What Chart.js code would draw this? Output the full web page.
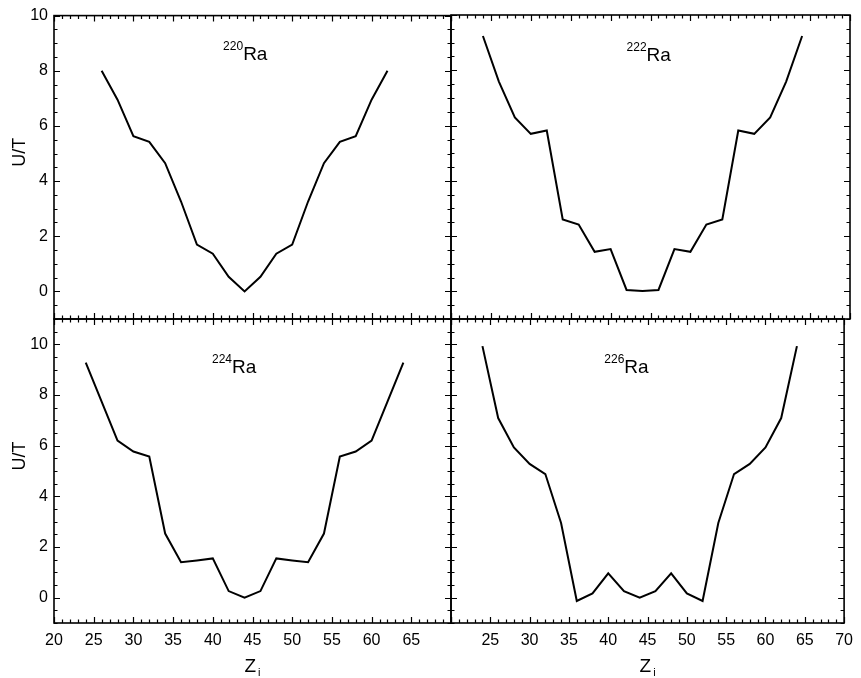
<!DOCTYPE html>
<html>
<head>
<meta charset="utf-8">
<script src="https://cdn.jsdelivr.net/npm/chart.js@4.4.1/dist/chart.umd.min.js"></script>
<style>
  body { margin: 0; background: #fff; }
  #wrap { position: relative; width: 861px; height: 678px; background: #fff; }
  #wrap canvas { position: absolute; left: 0; top: 0; }
</style>
</head>
<body>
<div id="wrap">
  <canvas id="c220" width="861" height="678"></canvas>
  <canvas id="c222" width="861" height="678"></canvas>
  <canvas id="c224" width="861" height="678"></canvas>
  <canvas id="c226" width="861" height="678"></canvas>
</div>
<script>
// Z_i values and U/T for each isotope
var z220 = [26, 28, 30, 32, 34, 36, 38, 40, 42, 44, 46, 48, 50, 52, 54, 56, 58, 60, 62];
var ut220 = [8.0, 6.95, 5.63, 5.42, 4.65, 3.26, 1.70, 1.37, 0.53, 0.0, 0.53, 1.37, 1.70, 3.26, 4.65, 5.42, 5.63, 6.95, 8.0];

var z222 = [24, 26, 28, 30, 32, 34, 36, 38, 40, 42, 44, 46, 48, 50, 52, 54, 56, 58, 60, 62, 64];
var ut222 = [9.24, 7.59, 6.29, 5.70, 5.82, 2.60, 2.42, 1.43, 1.53, 0.05, 0.01, 0.05, 1.53, 1.43, 2.42, 2.60, 5.82, 5.70, 6.29, 7.59, 9.24];

var z224 = [24, 26, 28, 30, 32, 34, 36, 38, 40, 42, 44, 46, 48, 50, 52, 54, 56, 58, 60, 62, 64];
var ut224 = [9.28, 7.74, 6.20, 5.77, 5.57, 2.53, 1.40, 1.47, 1.55, 0.26, 0.0, 0.26, 1.55, 1.47, 1.40, 2.53, 5.57, 5.77, 6.20, 7.74, 9.28];

var z226 = [24, 26, 28, 30, 32, 34, 36, 38, 40, 42, 44, 46, 48, 50, 52, 54, 56, 58, 60, 62, 64];
var ut226 = [9.93, 7.09, 5.93, 5.28, 4.88, 2.95, -0.13, 0.17, 0.96, 0.26, 0.0, 0.26, 0.96, 0.17, -0.13, 2.95, 4.88, 5.28, 5.93, 7.09, 9.93];

// tick labels
var xTicksLeft = [20, 25, 30, 35, 40, 45, 50, 55, 60, 65];
var xTicksRight = [25, 30, 35, 40, 45, 50, 55, 60, 65, 70];
var yTicks = [0, 2, 4, 6, 8, 10];

var FONT = '"Liberation Sans", Arial, sans-serif';

// frame, inward ticks on all four sides, and the text bits
var panelPlugin = {
  id: 'panel',
  afterDatasetsDraw: function(chart, args, opts) {
    var ctx = chart.ctx, a = chart.chartArea;
    var xs = chart.scales.x, ys = chart.scales.y;
    ctx.save();
    ctx.strokeStyle = '#000';
    ctx.lineWidth = 1.2;
    ctx.beginPath();
    for (var v = xs.min; v <= xs.max; v++) {
      var px = Math.round(xs.getPixelForValue(v)) + 0.5;
      var len = v % 5 === 0 ? 6 : 3.5;
      ctx.moveTo(px, a.bottom); ctx.lineTo(px, a.bottom - len);
      ctx.moveTo(px, a.top); ctx.lineTo(px, a.top + len);
    }
    for (var w = ys.min; w <= ys.max; w += 0.5) {
      var py = Math.round(ys.getPixelForValue(w)) + 0.5;
      var l2 = w % 2 === 0 ? 6 : 3.5;
      ctx.moveTo(a.left, py); ctx.lineTo(a.left + l2, py);
      ctx.moveTo(a.right, py); ctx.lineTo(a.right - l2, py);
    }
    ctx.stroke();
    ctx.lineWidth = 1.6;
    ctx.strokeRect(a.left, a.top, a.right - a.left, a.bottom - a.top);

    ctx.fillStyle = '#000';
    // isotope label
    var lx = xs.getPixelForValue(opts.labelX);
    var ly = ys.getPixelForValue(opts.labelY);
    ctx.textBaseline = 'alphabetic';
    ctx.textAlign = 'left';
    ctx.font = '12px ' + FONT;
    ctx.fillText(opts.mass, lx, ly - 10);
    var sw = ctx.measureText(opts.mass).width;
    ctx.font = '19px ' + FONT;
    ctx.fillText('Ra', lx + sw, ly);

    if (opts.yTitle) {
      ctx.save();
      ctx.translate(20, (a.top + a.bottom) / 2 - 15);
      ctx.rotate(-Math.PI / 2);
      ctx.textAlign = 'center';
      ctx.textBaseline = 'middle';
      ctx.font = '18px ' + FONT;
      ctx.fillText('U/T', 0, 0);
      ctx.restore();
    }
    if (opts.xTitle) {
      var cx = (a.left + a.right) / 2;
      ctx.font = '19px ' + FONT;
      var zw = ctx.measureText('Z').width;
      ctx.font = '11px ' + FONT;
      var iw = ctx.measureText('i').width;
      var x0 = cx - (zw + 2 + iw) / 2;
      ctx.textAlign = 'left';
      ctx.font = '19px ' + FONT;
      ctx.fillText('Z', x0, 672);
      ctx.font = '11px ' + FONT;
      ctx.fillText('i', x0 + zw + 2, 676);
    }
    ctx.restore();
  }
};

function makePanel(id, zs, uts, p) {
  var pts = zs.map(function(z, i) { return {x: z, y: uts[i]}; });
  var ctx = document.getElementById(id).getContext('2d');
  var showX = p.xTicks !== null;
  return new Chart(ctx, {
    type: 'line',
    data: {
      datasets: [{
        data: pts,
        borderColor: '#000',
        borderWidth: 2,
        pointRadius: 0,
        tension: 0,
        fill: false
      }]
    },
    options: {
      responsive: false,
      animation: false,
      devicePixelRatio: 1,
      layout: { padding: p.padding },
      plugins: {
        legend: { display: false },
        tooltip: { enabled: false },
        panel: p.panel
      },
      scales: {
        x: {
          type: 'linear',
          min: 20, max: 70,
          display: showX,
          grid: { display: false, drawTicks: false },
          border: { display: false },
          ticks: { color: '#000', font: { family: FONT, size: 16 }, padding: 8, maxRotation: 0 },
          afterBuildTicks: function(s) {
            if (p.xTicks) s.ticks = p.xTicks.map(function(v) { return {value: v}; });
          },
          afterFit: function(s) { s.height = showX ? 55 : 0; }
        },
        y: {
          type: 'linear',
          min: p.yMin, max: p.yMax,
          display: p.showY,
          grid: { display: false, drawTicks: false },
          border: { display: false },
          ticks: { color: '#000', font: { family: FONT, size: 16 }, padding: 6 },
          afterBuildTicks: function(s) {
            s.ticks = yTicks.map(function(v) { return {value: v}; });
          },
          afterFit: function(s) { s.width = p.showY ? 54 : 0; }
        }
      }
    },
    plugins: [panelPlugin]
  });
}

makePanel('c220', z220, ut220, {
  padding: { left: 0, top: 15, right: 410, bottom: 359 },
  xTicks: null, showY: true, yMin: -1, yMax: 10,
  panel: { mass: '220', labelX: 41.3, labelY: 8.38, yTitle: true, xTitle: false }
});
makePanel('c222', z222, ut222, {
  padding: { left: 451, top: 15, right: 11, bottom: 359 },
  xTicks: null, showY: false, yMin: -1, yMax: 10,
  panel: { mass: '222', labelX: 42.0, labelY: 8.34, yTitle: false, xTitle: false }
});
makePanel('c224', z224, ut224, {
  padding: { left: 0, top: 319, right: 410, bottom: 0 },
  xTicks: xTicksLeft, showY: true, yMin: -1, yMax: 11,
  panel: { mass: '224', labelX: 39.9, labelY: 8.88, yTitle: true, xTitle: true }
});
makePanel('c226', z226, ut226, {
  padding: { left: 451, top: 319, right: 11, bottom: 0 },
  xTicks: xTicksRight, showY: false, yMin: -1, yMax: 11,
  panel: { mass: '226', labelX: 39.5, labelY: 8.88, yTitle: false, xTitle: true }
});
</script>
</body>
</html>
